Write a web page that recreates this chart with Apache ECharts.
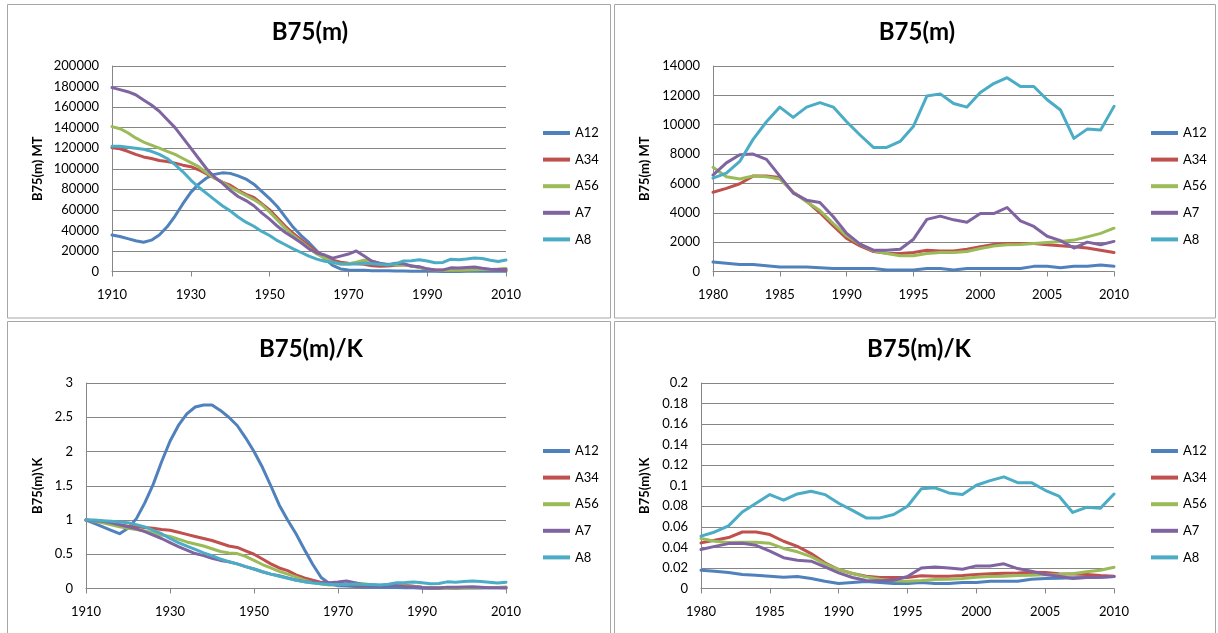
<!DOCTYPE html>
<html>
<head>
<meta charset="utf-8">
<script src="https://cdn.jsdelivr.net/npm/echarts@6/dist/echarts.min.js"></script>
<style>
html,body{margin:0;padding:0;background:#fff;}
#chart{width:1218px;height:633px;}
</style>
</head>
<body>
<div id="chart"></div>
<script>
// ---------- DATA ----------
const seriesNames = ['A12', 'A34', 'A56', 'A7', 'A8'];
const seriesColors = ['#4F81BD', '#C0504D', '#9BBB59', '#8064A2', '#4BACC6'];

const yearsLong = [1910,1912,1914,1916,1918,1920,1922,1924,1926,1928,1930,1932,1934,1936,1938,1940,1942,1944,1946,1948,1950,1952,1954,1956,1958,1960,1962,1964,1966,1968,1970,1972,1974,1976,1978,1980,1982,1984,1986,1988,1990,1992,1994,1996,1998,2000,2002,2004,2006,2008,2010];
const yearsShort = [1980,1981,1982,1983,1984,1985,1986,1987,1988,1989,1990,1991,1992,1993,1994,1995,1996,1997,1998,1999,2000,2001,2002,2003,2004,2005,2006,2007,2008,2009,2010];

const xTicksLong = [1910, 1930, 1950, 1970, 1990, 2010];
const xTicksShort = [1980, 1985, 1990, 1995, 2000, 2005, 2010];

// Panel 1: B75(m), MT, 1910-2010
const p1_A12 = [35500,34000,32000,30000,28500,30500,35500,43500,54000,66000,77000,85000,91000,94500,96000,95500,93000,90000,85000,78000,71000,63000,53000,43000,35000,28000,20000,12500,6000,2500,1500,1300,1200,800,700,640,480,390,300,250,200,200,100,200,100,200,200,350,250,350,350];
const p1_A34 = [120500,119500,117000,114000,111500,110000,108000,107000,105500,103500,102000,99000,95000,91000,87000,84000,79000,75000,72000,66000,60000,52000,44000,37000,31000,25000,19000,15000,11000,9000,8000,7500,7000,5500,5000,5400,5980,6500,5400,4000,2250,1360,1230,1450,1400,1680,1900,1900,1750,1600,1300];
const p1_A56 = [141000,139000,135000,130000,126000,123000,120000,117000,114000,110000,106000,102000,96000,91000,87000,82000,78000,74000,70000,65000,58000,50000,42000,35000,29000,23000,17000,13000,9000,7000,7500,9000,11000,10000,7500,7100,6300,6450,5400,4150,2430,1410,1070,1230,1300,1570,1820,1900,2050,2360,2950];
const p1_A7 = [179000,177000,175000,172000,167000,162000,156000,148000,140000,130000,120000,110000,100000,92000,86000,79000,73000,69000,64000,57000,51000,44000,38000,33000,28000,22000,18000,16000,13000,15000,17000,20000,15000,10000,8000,6570,7950,7640,5340,4700,2600,1450,1520,3550,3520,3950,4360,3070,2100,2000,2050];
const p1_A8 = [122000,122000,121000,120000,119000,117000,114000,110000,104000,97000,89000,82000,76000,70000,64000,59000,53000,48000,44000,39000,35000,30000,26000,22000,18500,15000,12000,10000,9000,7500,7000,7500,8000,7500,7000,6360,7500,10200,10500,11500,10200,8450,8860,11950,11450,12200,13200,12600,11000,9700,11250];

// Panel 2: B75(m), MT, 1980-2010
const p2_A12 = [640,570,480,480,390,300,300,300,250,200,200,200,200,100,100,100,200,200,100,200,200,200,200,200,350,350,250,350,350,450,350];
const p2_A34 = [5400,5660,5980,6500,6500,6400,5400,4800,4000,3100,2250,1750,1360,1250,1230,1300,1450,1400,1400,1520,1680,1840,1900,1900,1900,1820,1750,1680,1600,1450,1300];
const p2_A56 = [7100,6450,6300,6500,6450,6300,5400,4750,4150,3270,2430,1860,1410,1230,1070,1070,1230,1300,1300,1360,1570,1730,1820,1840,1900,1980,2050,2140,2360,2600,2950];
const p2_A7 = [6570,7400,7950,8000,7640,6500,5340,4860,4700,3730,2600,1860,1450,1450,1520,2200,3550,3770,3520,3360,3950,3950,4360,3450,3070,2400,2100,1600,2000,1820,2050];
const p2_A8 = [6360,6700,7500,9000,10200,11200,10500,11200,11500,11200,10200,9300,8450,8450,8860,9900,11950,12100,11450,11200,12200,12800,13200,12600,12600,11700,11000,9070,9700,9640,11250];

// Panel 3: B75(m)/K, 1910-2010
const p3_A12 = [1,0.95,0.9,0.85,0.8,0.88,1.02,1.25,1.52,1.85,2.15,2.38,2.55,2.65,2.68,2.68,2.6,2.5,2.38,2.2,2.0,1.77,1.5,1.22,1.0,0.8,0.57,0.35,0.16,0.07,0.04,0.035,0.03,0.02,0.02,0.0178,0.0156,0.013,0.011,0.0097,0.0049,0.0068,0.0049,0.0058,0.0049,0.0058,0.0071,0.009,0.01,0.0107,0.0117];
const p3_A34 = [1,0.99,0.97,0.95,0.93,0.91,0.9,0.89,0.88,0.86,0.85,0.82,0.79,0.76,0.73,0.7,0.66,0.62,0.6,0.55,0.5,0.43,0.36,0.3,0.26,0.2,0.155,0.12,0.09,0.075,0.065,0.06,0.055,0.045,0.042,0.0444,0.0496,0.055,0.046,0.034,0.0185,0.012,0.0107,0.0123,0.012,0.0136,0.0149,0.0159,0.0143,0.0136,0.012];
const p3_A56 = [1,0.98,0.96,0.93,0.9,0.88,0.86,0.84,0.81,0.78,0.76,0.72,0.68,0.65,0.62,0.58,0.54,0.52,0.51,0.47,0.41,0.35,0.3,0.25,0.21,0.17,0.12,0.09,0.065,0.05,0.053,0.064,0.075,0.07,0.055,0.0486,0.0447,0.045,0.039,0.031,0.0185,0.0113,0.0075,0.0078,0.009,0.011,0.012,0.013,0.0136,0.0162,0.0207];
const p3_A7 = [1,0.99,0.98,0.96,0.93,0.9,0.87,0.83,0.78,0.73,0.67,0.61,0.56,0.51,0.48,0.44,0.41,0.39,0.36,0.32,0.285,0.245,0.21,0.185,0.155,0.125,0.1,0.09,0.075,0.085,0.095,0.11,0.085,0.056,0.045,0.0379,0.0437,0.042,0.03,0.0266,0.0152,0.0078,0.0081,0.02,0.02,0.022,0.024,0.0169,0.012,0.0107,0.0117];
const p3_A8 = [1,1,0.99,0.98,0.97,0.96,0.93,0.9,0.85,0.8,0.73,0.67,0.62,0.57,0.52,0.48,0.43,0.39,0.36,0.32,0.285,0.245,0.21,0.18,0.15,0.12,0.1,0.08,0.07,0.06,0.057,0.06,0.065,0.06,0.057,0.051,0.061,0.083,0.086,0.0947,0.083,0.0687,0.072,0.097,0.093,0.1005,0.1086,0.103,0.09,0.079,0.092];

// Panel 4: B75(m)/K, 1980-2010
const p4_A12 = [0.0178,0.0169,0.0156,0.0136,0.013,0.012,0.011,0.0117,0.0097,0.0071,0.0049,0.0058,0.0068,0.0058,0.0049,0.0049,0.0058,0.0049,0.0049,0.0058,0.0058,0.0071,0.0071,0.0071,0.009,0.0097,0.01,0.0104,0.0107,0.011,0.0117];
const p4_A34 = [0.0444,0.047,0.0496,0.055,0.055,0.0525,0.046,0.041,0.034,0.025,0.0185,0.0146,0.012,0.0107,0.0107,0.0107,0.0123,0.012,0.012,0.0126,0.0136,0.0143,0.0149,0.0152,0.0159,0.0156,0.0143,0.014,0.0136,0.0126,0.012];
const p4_A56 = [0.0486,0.046,0.0447,0.045,0.045,0.044,0.039,0.0357,0.031,0.024,0.0185,0.0146,0.0113,0.009,0.0075,0.0071,0.0078,0.0088,0.009,0.0097,0.011,0.0117,0.012,0.0126,0.013,0.0133,0.0136,0.0143,0.0162,0.0178,0.0207];
const p4_A7 = [0.0379,0.041,0.0437,0.044,0.042,0.0363,0.03,0.0275,0.0266,0.021,0.0152,0.0107,0.0078,0.0075,0.0081,0.0117,0.02,0.021,0.02,0.0188,0.022,0.022,0.024,0.0194,0.0169,0.0136,0.012,0.0097,0.0107,0.011,0.0117];
const p4_A8 = [0.051,0.055,0.061,0.0745,0.083,0.0914,0.086,0.092,0.0947,0.0914,0.083,0.076,0.0687,0.0687,0.072,0.08,0.097,0.098,0.093,0.0914,0.1005,0.105,0.1086,0.103,0.103,0.0956,0.09,0.074,0.079,0.078,0.092];

const titles = ['B75(m)', 'B75(m)', 'B75(m)/K', 'B75(m)/K'];
const yNames = ['B75(m) MT', 'B75(m) MT', 'B75(m)\\K', 'B75(m)\\K'];

// ---------- LAYOUT ----------
const FONT = 'Lato';
const panels = [
  { grid: {left:112, top:66, width:394, height:205.5}, xs: yearsLong, ticks: xTicksLong, xmin:1910, xmax:2010,
    ymax:200000, yint:20000, data:[p1_A12,p1_A34,p1_A56,p1_A7,p1_A8], nameGap:68, titleX:310, titleY:20, legendX:543, legendY:126, fmt:true },
  { grid: {left:713, top:66, width:401, height:205.5}, xs: yearsShort, ticks: xTicksShort, xmin:1980, xmax:2010,
    ymax:14000, yint:2000, data:[p2_A12,p2_A34,p2_A56,p2_A7,p2_A8], nameGap:62, titleX:917, titleY:20, legendX:1151, legendY:126, fmt:true },
  { grid: {left:86, top:383, width:420, height:205.5}, xs: yearsLong, ticks: xTicksLong, xmin:1910, xmax:2010,
    ymax:3, yint:0.5, data:[p3_A12,p3_A34,p3_A56,p3_A7,p3_A8], nameGap:42, titleX:311, titleY:337, legendX:543, legendY:444, fmt:false },
  { grid: {left:701, top:383, width:413, height:205.5}, xs: yearsShort, ticks: xTicksShort, xmin:1980, xmax:2010,
    ymax:0.2, yint:0.02, data:[p4_A12,p4_A34,p4_A56,p4_A7,p4_A8], nameGap:50, titleX:919, titleY:337, legendX:1151, legendY:444, fmt:false }
];

const AXIS_COLOR = '#868686';
const option = {
  backgroundColor: '#ffffff',
  animation: false,
  color: seriesColors,
  title: [], legend: [], grid: [], xAxis: [], yAxis: [], series: [],
  graphic: [
    {type:'rect', shape:{x:7.5, y:4.5, width:603, height:313.5}, style:{fill:null, stroke:'#a6a6a6', lineWidth:1}, silent:true, z:-1},
    {type:'rect', shape:{x:614.5, y:4.5, width:601, height:313.5}, style:{fill:null, stroke:'#a6a6a6', lineWidth:1}, silent:true, z:-1},
    {type:'rect', shape:{x:7.5, y:321.5, width:603, height:330}, style:{fill:null, stroke:'#a6a6a6', lineWidth:1}, silent:true, z:-1},
    {type:'rect', shape:{x:614.5, y:321.5, width:601, height:330}, style:{fill:null, stroke:'#a6a6a6', lineWidth:1}, silent:true, z:-1}
  ]
};

panels.forEach((p, k) => {
  option.title.push({
    text: titles[k], left: p.titleX, top: p.titleY, textAlign: 'center', padding: 0,
    textStyle: {fontFamily: FONT, fontSize: 24, fontWeight: 'bold', color: '#000'}
  });
  option.legend.push({
    data: seriesNames.map((n, s) => ({name: n, icon: 'rect', itemStyle: {color: seriesColors[s]}})),
    orient: 'vertical', left: p.legendX, top: p.legendY, padding: 0,
    itemWidth: 27, itemHeight: 4, itemGap: 12.6, selectedMode: false,
    textStyle: {fontFamily: FONT, fontSize: 13, lineHeight: 14, color: '#000'}
  });
  option.grid.push(Object.assign({containLabel: false}, p.grid));
  option.xAxis.push({
    type: 'value', gridIndex: k, min: p.xmin, max: p.xmax,
    axisLine: {show: true, lineStyle: {color: AXIS_COLOR, width: 1}},
    axisTick: {show: true, length: 5, customValues: p.ticks, lineStyle: {color: AXIS_COLOR}},
    axisLabel: {customValues: p.ticks, margin: 17, fontFamily: FONT, fontSize: 13, color: '#000', formatter: v => String(v)},
    splitLine: {show: false}
  });
  option.yAxis.push({
    type: 'value', gridIndex: k, min: 0, max: p.ymax, interval: p.yint,
    name: yNames[k], nameLocation: 'middle', nameGap: p.nameGap,
    nameTextStyle: {fontFamily: FONT, fontSize: 13, fontWeight: 'bold', color: '#000'},
    axisLine: {show: true, lineStyle: {color: AXIS_COLOR, width: 1}},
    axisTick: {show: false},
    axisLabel: Object.assign({margin: 13, fontFamily: FONT, fontSize: 13, color: '#000'},
      p.fmt ? {formatter: v => String(v)} : {}),
    splitLine: {show: true, lineStyle: {color: AXIS_COLOR, width: 1}}
  });
  seriesNames.forEach((name, s) => {
    option.series.push({
      name: name, type: 'line', xAxisIndex: k, yAxisIndex: k,
      data: p.xs.map((x, i) => [x, p.data[s][i]]),
      symbol: 'none', smooth: false,
      lineStyle: {width: 3, color: seriesColors[s], join: 'round', cap: 'round'},
      itemStyle: {color: seriesColors[s]}
    });
  });
});

const chart = echarts.init(document.getElementById('chart'), null, {renderer: 'canvas'});
chart.setOption(option);
</script>
</body>
</html>
